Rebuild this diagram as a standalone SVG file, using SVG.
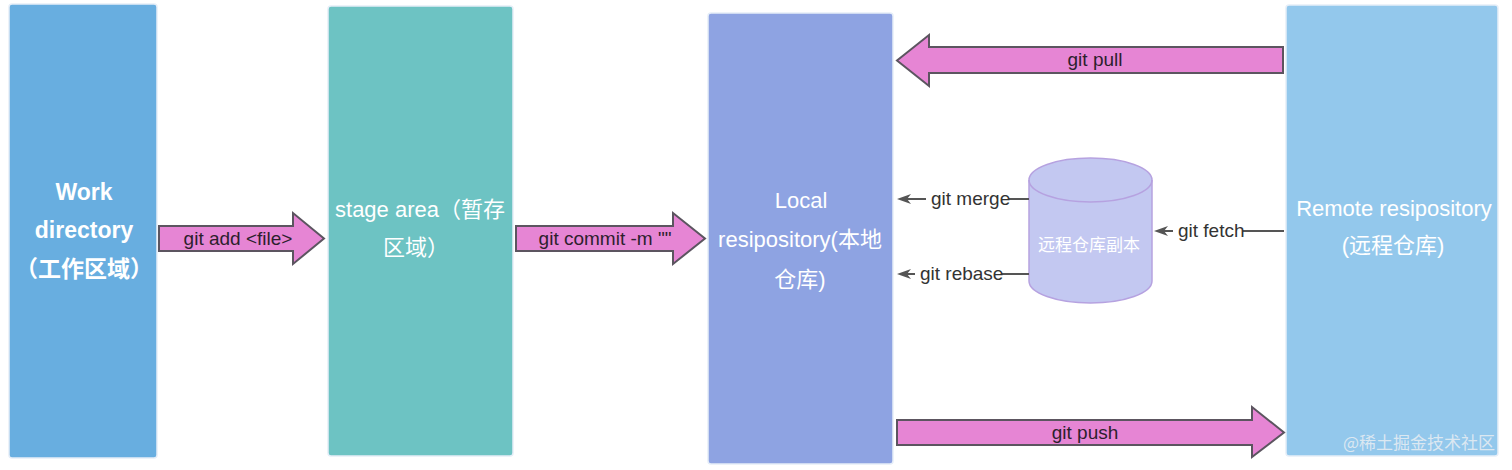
<svg xmlns="http://www.w3.org/2000/svg" width="1512" height="470" viewBox="0 0 1512 470">
<style>
.box{stroke:#e6eef8;stroke-width:1.5}
.bt{font-family:"Liberation Sans","Noto Sans CJK SC",sans-serif;font-size:22px;fill:#ffffff;text-anchor:middle}
.bold{font-weight:bold;font-size:23px}
.ba{fill:#e685d4;stroke:#5c5560;stroke-width:2;stroke-linejoin:miter}
.al{font-family:"Liberation Sans","Noto Sans CJK SC",sans-serif;font-size:19px;fill:#2d1f2d;text-anchor:middle}
.cl{font-family:"Liberation Sans",sans-serif;font-size:19px;fill:#333333}
.ln{stroke:#555555;stroke-width:2;fill:none}
.wm{font-family:"Noto Sans CJK SC",sans-serif;font-size:17px;fill:#e9eef3;fill-opacity:0.85;text-anchor:end}
</style>
<defs>
<marker id="ah" viewBox="0 0 14 10" markerWidth="14" markerHeight="10" refX="4" refY="5" orient="auto" markerUnits="userSpaceOnUse">
<path d="M0,0 L14,5 L0,10 L4,5 Z" fill="#555555"/>
</marker>
</defs>
<rect width="1512" height="470" fill="#ffffff"/>

<g id="work">
<rect class="box" x="9" y="4" width="148" height="454" rx="3" fill="#68aee0"/>
<text class="bt bold" x="84" y="200">Work</text>
<text class="bt bold" x="84" y="238">directory</text>
<text class="bt bold" x="84" y="277">（工作区域）</text>
</g>

<g id="stage">
<rect class="box" x="328" y="6" width="185" height="450" rx="3" fill="#6dc3c3"/>
<text class="bt" x="420" y="217">stage area（暂存</text>
<text class="bt" x="416" y="255">区域）</text>
</g>

<g id="local">
<rect class="box" x="708" y="13" width="185" height="451" rx="3" fill="#8ea3e2"/>
<text class="bt" x="801" y="208">Local</text>
<text class="bt" x="800" y="247">resipository(本地</text>
<text class="bt" x="800" y="287">仓库)</text>
</g>

<g id="remote">
<rect class="box" x="1286" y="5" width="212" height="451" rx="3" fill="#93c8ec"/>
<text class="bt" x="1394" y="216">Remote resipository</text>
<text class="bt" x="1393" y="253">(远程仓库)</text>
</g>

<g id="copy">
<path d="M1029,180 L1029,281 A61.5,22 0 0 0 1152,281 L1152,180 A61.5,22 0 0 0 1029,180 Z" fill="#c3c8f1" stroke="#b6a2e0" stroke-width="1.5"/>
<path d="M1029,180 A61.5,22 0 0 0 1152,180" fill="none" stroke="#b6a2e0" stroke-width="1.5"/>
<text x="1089" y="251" font-family="Noto Sans CJK SC,sans-serif" font-size="17" fill="#ffffff" text-anchor="middle">远程仓库副本</text>
</g>

<g id="connectors">
<polygon class="ba" points="159,226 293,226 293,213 324,238.5 293,264 293,251 159,251"/>
<text class="al" x="238" y="245">git add &lt;file&gt;</text>

<polygon class="ba" points="516,226 673,226 673,213 705,238.5 673,264 673,251 516,251"/>
<text class="al" x="605" y="245">git commit -m ""</text>

<polygon class="ba" points="1283,47 929,47 929,35 897,60.5 929,86 929,73 1283,73"/>
<text class="al" x="1095" y="66">git pull</text>

<polygon class="ba" points="897,420 1252,420 1252,407 1284,432.5 1252,457 1252,445 897,445"/>
<text class="al" x="1085" y="439">git push</text>

<line class="ln" x1="1029" y1="199" x2="907" y2="199" marker-end="url(#ah)"/>
<rect x="926" y="188" width="83" height="22" fill="#ffffff"/>
<text class="cl" x="931" y="205">git merge</text>

<line class="ln" x1="1029" y1="274" x2="907" y2="274" marker-end="url(#ah)"/>
<rect x="915" y="263" width="87" height="22" fill="#ffffff"/>
<text class="cl" x="920" y="280">git rebase</text>

<line class="ln" x1="1284" y1="231" x2="1164" y2="231" marker-end="url(#ah)"/>
<rect x="1173" y="220" width="70" height="22" fill="#ffffff"/>
<text class="cl" x="1178" y="237">git fetch</text>
</g>

<text class="wm" x="1495" y="449">@稀土掘金技术社区</text>
</svg>
